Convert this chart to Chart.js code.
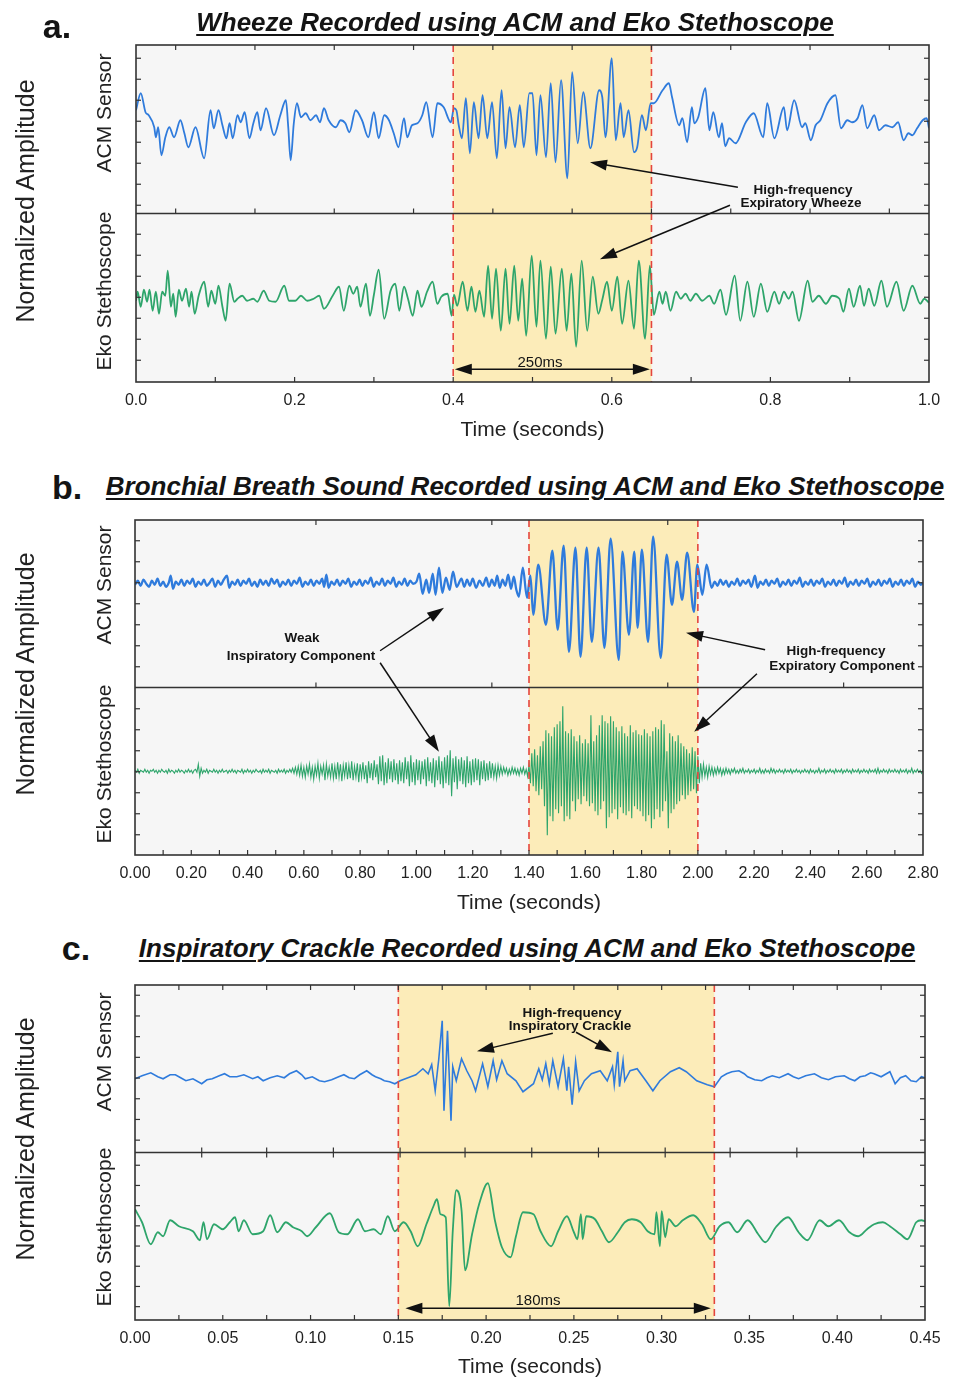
<!DOCTYPE html>
<html><head><meta charset="utf-8">
<script src="https://cdn.jsdelivr.net/npm/chart.js"></script>
<style>
html,body{margin:0;padding:0;background:#fff;}
body{width:953px;height:1380px;position:relative;overflow:hidden;font-family:'Liberation Sans',Arial,sans-serif;color:#141414;}
canvas{position:absolute;left:0;}
.c{position:absolute;transform:translate(-50%,-50%);white-space:nowrap;line-height:1;}
.r{position:absolute;transform:translate(-50%,-50%) rotate(-90deg);white-space:nowrap;line-height:1;}
.ttl{font-weight:bold;font-style:italic;font-size:26px;text-decoration:underline;text-decoration-thickness:2px;text-underline-offset:3px;}
.pl{font-weight:bold;font-size:34px;}
.an{font-weight:bold;font-size:13.5px;}
.ms{font-size:15px;}
.yl{font-size:21px;color:#222;}
.na{font-size:25px;color:#222;}
</style></head><body>
<canvas id="ca" width="953" height="410" style="top:40px"></canvas>
<canvas id="cb" width="953" height="410" style="top:515px"></canvas>
<canvas id="cc" width="953" height="400" style="top:980px"></canvas>

<div class="c pl" style="left:57px;top:26px">a.</div>
<div class="c ttl" style="left:515px;top:22px">Wheeze Recorded using ACM and Eko Stethoscope</div>
<div class="r na" style="left:25px;top:201px">Normalized Amplitude</div>
<div class="r yl" style="left:103px;top:113px">ACM Sensor</div>
<div class="r yl" style="left:103px;top:291px">Eko Stethoscope</div>
<div class="c an" style="left:803px;top:190px">High-frequency</div>
<div class="c an" style="left:801px;top:203px">Expiratory Wheeze</div>
<div class="c ms" style="left:540px;top:361px">250ms</div>

<div class="c pl" style="left:67px;top:487px">b.</div>
<div class="c ttl" style="left:525px;top:486px">Bronchial Breath Sound Recorded using ACM and Eko Stethoscope</div>
<div class="r na" style="left:25px;top:674px">Normalized Amplitude</div>
<div class="r yl" style="left:103px;top:585px">ACM Sensor</div>
<div class="r yl" style="left:103px;top:764px">Eko Stethoscope</div>
<div class="c an" style="left:302px;top:638px">Weak</div>
<div class="c an" style="left:301px;top:656px">Inspiratory Component</div>
<div class="c an" style="left:836px;top:651px">High-frequency</div>
<div class="c an" style="left:842px;top:666px">Expiratory Component</div>

<div class="c pl" style="left:76px;top:948px">c.</div>
<div class="c ttl" style="left:527px;top:948px">Inspiratory Crackle Recorded using ACM and Eko Stethoscope</div>
<div class="r na" style="left:25px;top:1139px">Normalized Amplitude</div>
<div class="r yl" style="left:103px;top:1052px">ACM Sensor</div>
<div class="r yl" style="left:103px;top:1227px">Eko Stethoscope</div>
<div class="c an" style="left:572px;top:1013px">High-frequency</div>
<div class="c an" style="left:570px;top:1026px">Inspiratory Crackle</div>
<div class="c ms" style="left:538px;top:1299px">180ms</div>

<script>
// ---------- DATA (time in ms, normalized amplitude) ----------
const acmA = [[0,19],[6,36],[12,17],[16,14],[23,2],[25,-8],[28,2],[32,-26],[37,-8],[42,2],[48,-8],[56,9],[61,-4],[66,-18],[75,2],[86,-29],[94,19],[98,1],[104,19],[109,4],[114,-9],[118,6],[122,-9],[128,14],[132,7],[137,17],[143,-9],[148,6],[153,17],[157,-1],[164,21],[174,-6],[182,14],[189,29],[192,2],[195,-31],[199,6],[203,26],[208,12],[214,16],[220,9],[227,14],[232,7],[237,21],[243,9],[252,2],[258,9],[264,6],[269,-3],[277,19],[285,9],[293,-8],[300,17],[306,-9],[313,14],[319,9],[325,-4],[331,-18],[338,11],[342,-8],[348,4],[355,6],[361,14],[366,27],[374,-8],[380,26],[388,22],[397,7],[401,21],[404,19],[407,4],[411,-9],[416,31],[421,-24],[426,27],[432,-9],[437,34],[443,-9],[449,27],[455,-29],[461,39],[466,-19],[471,22],[478,-18],[484,24],[489,-18],[496,36],[500,36],[505,-26],[510,34],[517,-28],[523,46],[529,-33],[536,49],[544,-49],[550,57],[557,-14],[564,37],[573,-19],[584,39],[588,32],[592,-8],[600,71],[605,-11],[611,26],[615,-8],[621,19],[628,-23],[632,-18],[638,14],[643,-1],[649,26],[653,26],[664,39],[672,46],[676,32],[685,4],[689,11],[695,-13],[701,22],[704,6],[709,12],[718,41],[723,-1],[728,17],[735,-8],[739,6],[743,-17],[748,-9],[756,-14],[769,7],[779,16],[791,-8],[796,26],[805,-9],[817,22],[821,-1],[830,29],[840,2],[844,6],[851,-11],[857,4],[863,9],[872,26],[882,34],[889,1],[897,9],[903,7],[910,11],[916,24],[922,1],[931,14],[937,-1],[945,4],[954,2],[961,7],[968,-11],[974,-4],[979,-6],[985,1],[992,9],[997,11],[1000,1]];

const ekoA = [[0,-3],[2,6],[6,-9],[10,8],[14,-4],[17,8],[21,-13],[25,6],[29,-16],[33,6],[37,2],[40,27],[44,-9],[47,4],[50,-19],[54,8],[58,-3],[63,9],[67,-9],[70,6],[74,-16],[79,2],[86,16],[91,-9],[95,7],[100,-6],[104,12],[109,-9],[113,-23],[118,14],[124,-4],[128,-1],[134,2],[140,-3],[148,-1],[153,-4],[161,7],[168,-3],[176,-4],[187,12],[193,-3],[201,-3],[208,2],[216,-3],[224,-1],[231,2],[237,-11],[248,2],[256,11],[262,-13],[269,12],[274,4],[279,11],[283,-9],[290,14],[295,-18],[300,3],[306,28],[313,-21],[321,7],[327,14],[332,-13],[338,11],[343,-1],[349,-18],[355,7],[360,-9],[367,6],[374,16],[380,-6],[385,1],[393,4],[398,-18],[401,3],[405,-8],[412,16],[418,-13],[423,11],[428,-14],[433,7],[439,-19],[444,32],[449,-21],[454,29],[460,-33],[466,29],[471,-26],[477,32],[482,-23],[487,19],[492,-38],[499,42],[505,-29],[510,37],[517,-41],[523,31],[529,-36],[537,29],[543,-33],[549,24],[555,-49],[562,37],[569,-33],[576,21],[583,-16],[588,-2],[594,16],[600,-13],[607,21],[613,-26],[621,17],[628,-31],[634,37],[642,-41],[648,32],[653,-17],[660,6],[664,-6],[668,6],[674,-13],[681,6],[687,-1],[693,4],[699,-3],[706,4],[714,-3],[723,2],[729,-6],[737,8],[744,-17],[755,22],[762,-23],[771,16],[779,-19],[788,14],[796,-14],[805,6],[811,-6],[817,6],[823,-1],[828,6],[836,-23],[847,17],[853,-4],[861,2],[870,-6],[878,2],[887,-1],[892,-14],[899,9],[905,-9],[913,12],[918,-8],[924,9],[931,-8],[940,17],[947,-9],[959,16],[968,-13],[979,12],[989,-6],[994,-1],[1000,-5]];

const acmB = [[0,19],[10,23],[20,18],[30,24],[40,20],[50,17],[60,23],[70,19],[80,25],[90,18],[100,22],[110,17],[120,21],[127,28],[135,15],[145,22],[155,19],[165,24],[175,18],[185,23],[195,20],[205,25],[215,17],[225,22],[235,19],[245,24],[255,18],[265,21],[275,25],[285,17],[295,23],[305,19],[315,24],[327,28],[335,16],[345,22],[355,19],[365,24],[375,18],[385,23],[395,20],[405,25],[415,18],[425,22],[435,17],[445,24],[455,19],[465,23],[475,18],[485,25],[495,20],[505,24],[515,17],[525,22],[535,19],[545,24],[555,18],[565,23],[575,20],[585,26],[595,17],[605,22],[615,19],[625,24],[635,18],[645,23],[655,20],[665,25],[672,17],[680,29],[688,16],[698,22],[708,19],[718,24],[728,18],[738,23],[748,20],[758,25],[768,17],[778,22],[788,19],[798,24],[808,18],[818,23],[828,20],[838,26],[848,17],[858,22],[868,19],[878,25],[888,18],[898,23],[908,20],[918,26],[928,17],[938,22],[948,19],[958,25],[968,18],[978,23],[988,20],[1000,22],[1010,30],[1022,10],[1035,24],[1045,11],[1058,30],[1068,9],[1080,36],[1092,11],[1105,26],[1118,14],[1130,32],[1143,17],[1160,25],[1170,17],[1180,24],[1190,18],[1200,25],[1212,16],[1224,23],[1236,18],[1248,26],[1258,17],[1268,24],[1278,18],[1287,28],[1296,16],[1306,24],[1316,18],[1326,29],[1336,15],[1346,27],[1355,14],[1364,7],[1378,36],[1393,6],[1400,20],[1405,28],[1415,-11],[1433,39],[1460,-21],[1483,53],[1502,-26],[1523,58],[1542,-48],[1565,56],[1583,-53],[1605,56],[1623,-38],[1647,56],[1668,-44],[1690,65],[1719,-56],[1732,52],[1755,-31],[1774,52],[1786,-24],[1801,54],[1823,-38],[1841,67],[1868,-54],[1889,49],[1908,-1],[1926,42],[1944,4],[1962,51],[1986,-8],[1998,39],[2016,9],[2031,39],[2049,16],[2060,22],[2070,18],[2080,24],[2090,19],[2100,23],[2110,17],[2120,22],[2130,19],[2140,25],[2150,18],[2160,23],[2170,20],[2180,24],[2190,17],[2203,28],[2212,16],[2222,22],[2232,19],[2242,24],[2252,18],[2262,23],[2272,20],[2282,25],[2292,17],[2302,22],[2312,19],[2322,24],[2332,18],[2342,23],[2352,20],[2362,26],[2372,17],[2382,22],[2392,19],[2402,24],[2412,18],[2422,23],[2432,20],[2442,25],[2452,17],[2462,22],[2472,19],[2482,24],[2492,18],[2502,23],[2512,20],[2522,26],[2532,17],[2542,22],[2552,19],[2562,24],[2572,18],[2582,23],[2592,20],[2602,25],[2612,17],[2622,22],[2632,19],[2642,24],[2652,18],[2662,23],[2672,20],[2682,25],[2692,17],[2702,22],[2712,19],[2722,24],[2732,18],[2742,23],[2752,20],[2762,25],[2772,17],[2782,22],[2792,19],[2800,21]];

// Eko (panel b) sampled every 5 ms, one row = 100 ms
const ekoB_stepMs = 5;
const ekoB = [
1,-1,2,-2,1,0,-1,2,-1,1,-2,1,0,2,-1,1,-2,1,-1,2,
0,-1,1,-2,2,-1,1,0,-2,1,-1,2,-1,1,0,-2,1,-1,2,-1,
1,-2,1,2,-1,7,-5,3,-2,1,-1,2,-2,1,0,-1,2,-1,1,-2,
1,-1,2,-1,0,1,-2,1,-1,2,-1,1,-2,1,0,-1,2,-2,1,-1,
2,-1,1,-2,1,-1,2,0,-1,1,-2,2,-1,1,-1,2,-2,1,0,-1,
1,-2,2,-1,1,-1,2,-2,1,-1,2,-1,3,-2,4,-3,5,-4,6,-5,
4,-6,5,-3,7,-6,4,-8,5,-4,8,-7,5,-3,6,-9,7,-5,4,-6,
8,-7,5,-8,9,-6,7,-10,6,-5,9,-8,6,-7,10,-9,5,-6,8,-11,
7,-6,9,-8,6,-12,10,-7,8,-9,11,-6,7,-13,15,-10,16,-14,9,-12,
13,-8,10,-11,12,-9,8,-13,11,-10,9,-12,14,-8,10,-15,16,-11,9,-14,
12,-9,11,-13,10,-8,12,-15,14,-10,9,-12,13,-16,11,-9,15,-13,10,-17,
14,-12,16,-14,21,-25,13,-11,15,-18,12,-10,14,-13,11,-16,15,-12,10,-14,
12,-11,13,-9,12,-14,10,-8,11,-10,8,-9,10,-7,8,-6,5,-7,6,-4,
5,-3,4,-2,3,-4,2,-3,4,-2,3,-3,2,-4,3,-2,4,-3,2,-5,
6,-12,18,-15,22,-20,16,-24,25,-18,30,-35,41,-64,38,-45,35,-50,44,-38,
47,-42,50,-35,65,-50,40,-45,38,-48,42,-30,35,-40,30,-28,36,-33,28,-25,
32,-30,28,-35,56,-32,30,-40,36,-44,46,-38,56,-30,50,-57,48,-46,55,-42,
50,-38,44,-48,40,-36,45,-42,38,-44,35,-40,46,-47,39,-35,41,-38,37,-40,
36,-45,42,-50,38,-44,35,-57,40,-48,44,-38,42,-46,51,-40,47,-30,20,-57,
38,-42,35,-38,30,-33,36,-30,28,-24,25,-28,22,-24,18,-20,24,-18,20,-22,
15,-12,8,-6,7,-5,4,-6,5,-3,4,-4,3,-3,4,-2,3,-4,2,-3,
3,-2,2,-3,2,-1,3,-2,1,-2,2,-1,3,-2,1,-1,2,-2,1,-1,
2,-2,1,-1,3,-2,1,-2,2,-1,1,-2,3,-1,2,-2,1,-1,2,-1,
1,-2,2,-1,1,-1,2,-2,1,-1,2,-1,1,-2,1,-1,2,-1,1,-2,
2,-1,1,-2,1,-1,3,-2,1,-1,2,-2,1,-1,2,-1,1,-2,2,-1,
1,-1,2,-2,1,-1,2,-1,1,-2,2,-1,1,-1,2,-2,1,-1,2,-1,
1,-2,2,-1,1,-1,2,-2,3,-2,1,-1,2,-1,1,-2,2,-1,1,-1,
2,-1,1,-2,2,-1,1,-1,2,-2,1,-1,3,-2,1,-1,2,-1,1,-2,
1];

const acmC = [[0,-10],[4,-7],[9,-4],[13,-8],[16,-10],[20,-6],[23,-6],[26,-9],[29,-12],[33,-10],[38,-15],[41,-11],[44,-10],[48,-7],[51,-5],[54,-8],[58,-8],[62,-6],[67,-10],[70,-8],[73,-12],[77,-9],[81,-7],[85,-9],[88,-5],[92,-2],[95,-6],[97,-10],[101,-8],[105,-12],[108,-13],[112,-11],[116,-8],[119,-6],[122,-9],[125,-10],[128,-6],[132,-2],[135,-6],[137,-8],[140,-10],[142,-12],[145,-13],[148,-15],[151,-12],[154,-10],[157,-8],[160,-6],[162,-3],[164,0],[167,-5],[169,4],[171,-22],[173,9],[175,48],[176,-42],[178,38],[180,-52],[181,2],[183,-12],[186,10],[189,-2],[192,-12],[194,-22],[198,5],[201,-18],[204,8],[206,-11],[209,8],[212,-5],[217,-12],[221,-23],[227,-15],[230,0],[232,-11],[234,5],[236,-15],[238,8],[241,-18],[244,10],[246,-22],[247,2],[249,-36],[251,7],[253,-22],[256,-12],[260,-5],[265,-2],[269,-12],[272,2],[273,-16],[275,17],[276,-18],[278,8],[279,-12],[282,-2],[286,0],[291,-12],[295,-22],[299,-12],[305,-3],[310,1],[314,-3],[320,-12],[326,-16],[330,-18],[334,-8],[337,-5],[340,-3],[344,-2],[347,-5],[349,-8],[353,-11],[357,-12],[360,-9],[363,-7],[367,-9],[372,-5],[375,-8],[378,-10],[382,-7],[387,-5],[391,-9],[395,-11],[399,-8],[404,-7],[407,-10],[410,-12],[413,-8],[416,-7],[419,-4],[421,-5],[425,-8],[430,-3],[433,-15],[436,-9],[439,-7],[442,-12],[445,-13],[448,-8],[450,-9]];

const ekoC = [[0,27],[4,14],[9,-8],[13,4],[16,0],[20,16],[25,10],[33,5],[37,-4],[39,14],[41,-3],[45,12],[50,7],[54,14],[57,19],[59,5],[62,16],[67,2],[73,5],[77,21],[81,4],[86,14],[90,9],[95,5],[98,0],[103,9],[111,23],[116,4],[121,2],[127,17],[131,5],[136,7],[140,2],[144,20],[148,5],[153,14],[157,5],[161,-10],[166,12],[170,30],[172,37],[174,22],[177,19],[179,-70],[181,5],[183,46],[186,26],[188,-34],[192,2],[196,32],[201,53],[205,16],[209,-11],[214,-21],[217,0],[221,24],[227,22],[231,5],[237,-10],[241,5],[246,20],[250,4],[252,-3],[254,22],[255,-3],[257,20],[262,17],[266,5],[270,-6],[275,4],[279,14],[283,17],[288,14],[292,5],[296,2],[297,24],[299,-10],[300,25],[302,-1],[304,17],[308,10],[312,16],[318,21],[323,12],[328,-3],[333,10],[338,14],[343,4],[349,16],[355,2],[359,-6],[365,9],[372,19],[378,4],[383,-4],[390,16],[395,10],[401,16],[407,4],[412,0],[417,7],[421,12],[426,14],[430,10],[436,2],[440,-3],[445,14],[448,16],[450,15]];

// tick labels (seconds)
const ticksA = [0, 0.2, 0.4, 0.6, 0.8, 1.0];
const ticksB = [0, 0.2, 0.4, 0.6, 0.8, 1.0, 1.2, 1.4, 1.6, 1.8, 2.0, 2.2, 2.4, 2.6, 2.8];
const ticksC = [0, 0.05, 0.1, 0.15, 0.2, 0.25, 0.3, 0.35, 0.4, 0.45];
// highlighted intervals (seconds)
const shadeA = [0.40, 0.65];
const shadeB = [1.40, 2.00];
const shadeC = [0.15, 0.33];
// minor tick marks (seconds)
const minorA_top = [0.05,0.15,0.25,0.35,0.45,0.55,0.65,0.75,0.85,0.95];
const minorA_bot = [0.1,0.2,0.3,0.4,0.5,0.6,0.7,0.8,0.9];
const minorB_top = [0.643,1.268,1.893,2.518];
const minorB_bot = [0.1,0.2,0.3,0.4,0.5,0.6,0.7,0.8,0.9,1.0,1.1,1.2,1.3,1.4,1.5,1.6,1.7,1.8,1.9,2.0,2.1,2.2,2.3,2.4,2.5,2.6,2.7];
const minorC_edge = [0.025,0.05,0.075,0.1,0.125,0.15,0.175,0.2,0.225,0.25,0.275,0.3,0.325,0.35,0.375,0.4,0.425];
const minorC_mid = [0.038,0.075,0.113,0.151,0.188,0.226,0.264,0.302,0.339,0.377,0.415];

// ---------- RENDER ----------
const BLUE = '#2f7bdc', GREEN = '#2ea56b', RED = '#e4453d', SHADE = '#fcecb9', BG = '#f6f6f6', FRAME = '#333';
const FONT = "'Liberation Sans', Arial, sans-serif";
Chart.defaults.font.family = FONT;

function arrow(ctx, x1, y1, x2, y2) {
  const ang = Math.atan2(y2 - y1, x2 - x1), hl = 17, hw = 5.5;
  const c = Math.cos(ang), s = Math.sin(ang);
  ctx.beginPath(); ctx.moveTo(x1, y1); ctx.lineTo(x2 - c * hl * 0.8, y2 - s * hl * 0.8); ctx.stroke();
  ctx.beginPath(); ctx.moveTo(x2, y2);
  ctx.lineTo(x2 - c * hl - s * hw, y2 - s * hl + c * hw);
  ctx.lineTo(x2 - c * hl + s * hw, y2 - s * hl - c * hw);
  ctx.closePath(); ctx.fill();
}

function makeDeco(cfg) {
  return {
    id: 'deco',
    beforeDatasetsDraw(chart) {
      const ctx = chart.ctx, a = chart.chartArea, x = chart.scales.x;
      ctx.save();
      ctx.fillStyle = BG; ctx.fillRect(a.left, a.top, a.right - a.left, a.bottom - a.top);
      const s0 = x.getPixelForValue(cfg.shade[0]), s1 = x.getPixelForValue(cfg.shade[1]);
      ctx.fillStyle = SHADE; ctx.fillRect(s0, a.top, s1 - s0, a.bottom - a.top);
      ctx.restore();
    },
    afterDatasetsDraw(chart) {
      const ctx = chart.ctx, a = chart.chartArea, x = chart.scales.x, y = chart.scales.yA;
      const mid = y.getPixelForValue(-cfg.plotH / 4);
      const ln = (x1, y1, x2, y2) => { ctx.beginPath(); ctx.moveTo(x1, y1); ctx.lineTo(x2, y2); ctx.stroke(); };
      ctx.save();
      ctx.strokeStyle = RED; ctx.lineWidth = 1.6; ctx.setLineDash([7, 5]);
      cfg.shade.forEach(v => { const p = x.getPixelForValue(v); ln(p, a.top, p, a.bottom); });
      ctx.setLineDash([]);
      ctx.strokeStyle = FRAME; ctx.lineWidth = 1.2;
      const L = 5;
      cfg.xTop.forEach(v => { const p = x.getPixelForValue(v); ln(p, a.top, p, a.top + L); });
      cfg.xDivUp.forEach(v => { const p = x.getPixelForValue(v); ln(p, mid, p, mid - L); });
      cfg.xDivDown.forEach(v => { const p = x.getPixelForValue(v); ln(p, mid, p, mid + L); });
      cfg.xBot.forEach(v => { const p = x.getPixelForValue(v); ln(p, a.bottom, p, a.bottom - L); });
      cfg.yTicks.forEach(v => { const p = y.getPixelForValue(v); ln(a.left, p, a.left + L, p); ln(a.right, p, a.right - L, p); });
      ctx.lineWidth = 1.6;
      ctx.strokeRect(a.left, a.top, a.right - a.left, a.bottom - a.top);
      ln(a.left, mid, a.right, mid);
      ctx.fillStyle = '#111'; ctx.strokeStyle = '#111'; ctx.lineWidth = 1.5;
      cfg.arrows.forEach(r => arrow(ctx, x.getPixelForValue(r[0]), y.getPixelForValue(r[1]), x.getPixelForValue(r[2]), y.getPixelForValue(r[3])));
      if (cfg.span) {
        const yy = y.getPixelForValue(cfg.span[2]);
        const p0 = x.getPixelForValue(cfg.span[0]), p1 = x.getPixelForValue(cfg.span[1]), m = (p0 + p1) / 2;
        arrow(ctx, m, yy, p0, yy); arrow(ctx, m, yy, p1, yy);
      }
      ctx.restore();
    }
  };
}

const toPts = arr => arr.map(p => ({ x: p[0] / 1000, y: p[1] }));

function build(id, cfg) {
  const q = cfg.plotH / 4;
  new Chart(document.getElementById(id), {
    type: 'line',
    data: { datasets: [
      { data: cfg.acm, yAxisID: 'yA', borderColor: BLUE, borderWidth: cfg.wA, pointRadius: 0, fill: false,
        tension: 0, cubicInterpolationMode: cfg.smoothA ? 'monotone' : 'default' },
      { data: cfg.eko, yAxisID: 'yE', borderColor: GREEN, borderWidth: cfg.wE, pointRadius: 0, fill: false,
        tension: 0, cubicInterpolationMode: cfg.smoothE ? 'monotone' : 'default' }
    ] },
    options: {
      responsive: false, animation: false, devicePixelRatio: 1, parsing: false, events: [],
      layout: { padding: { left: cfg.left, right: 953 - cfg.right, top: cfg.padTop, bottom: 0 } },
      plugins: { legend: { display: false }, tooltip: { enabled: false } },
      scales: {
        x: {
          type: 'linear', min: cfg.min, max: cfg.max,
          afterBuildTicks: s => { s.ticks = cfg.tickVals.map(v => ({ value: v })); },
          afterFit: s => { s.height = cfg.axisH; },
          grid: { display: false, drawTicks: false }, border: { display: false },
          ticks: { autoSkip: false, maxRotation: 0, padding: 9, color: '#222', font: { size: 16 },
                   callback: v => Number(v).toFixed(cfg.dec) },
          title: { display: true, text: 'Time (seconds)', color: '#222', font: { size: 21 },
                   padding: { top: 0, bottom: cfg.titlePad } }
        },
        yA: { type: 'linear', display: false, min: -3 * q, max: q },
        yE: { type: 'linear', display: false, min: -q, max: 3 * q }
      }
    },
    plugins: [makeDeco(cfg)]
  });
}

build('ca', {
  acm: toPts(acmA), eko: toPts(ekoA), smoothA: true, smoothE: true, wA: 1.8, wE: 1.8,
  plotH: 337, left: 136, right: 929, padTop: 5, axisH: 68, titlePad: 7,
  min: 0, max: 1, tickVals: ticksA, dec: 1, shade: shadeA,
  xTop: minorA_top, xDivUp: minorA_top, xDivDown: [], xBot: minorA_bot,
  yTicks: [71,50,29,8,-13,-34,-55,-76,-105,-126,-147,-168,-189,-210,-231],
  arrows: [[0.759,-58,0.5725,-33],[0.749,-76,0.585,-130]],
  span: [0.402, 0.648, -240]
});

build('cb', {
  acm: toPts(acmB), eko: ekoB.map((v, i) => ({ x: i * ekoB_stepMs / 1000, y: v })),
  smoothA: true, smoothE: false, wA: 2.3, wE: 1.1,
  plotH: 335, left: 135, right: 923, padTop: 5, axisH: 70, titlePad: 9,
  min: 0, max: 2.8, tickVals: ticksB, dec: 2, shade: shadeB,
  xTop: minorB_top, xDivUp: minorB_top, xDivDown: [], xBot: minorB_bot,
  yTicks: [63,42,21,0,-21,-42,-63,-105,-126,-147,-168,-189,-210,-231],
  arrows: [[0.871,-47,1.098,-4],[0.871,-59,1.080,-148],[2.239,-46,1.958,-29],[2.210,-70,1.987,-128]],
  span: null
});

build('cc', {
  acm: toPts(acmC), eko: toPts(ekoC), smoothA: false, smoothE: true, wA: 1.6, wE: 1.8,
  plotH: 335, left: 135, right: 925, padTop: 5, axisH: 60, titlePad: 0,
  min: 0, max: 0.45, tickVals: ticksC, dec: 2, shade: shadeC,
  xTop: minorC_edge, xDivUp: minorC_mid, xDivDown: minorC_mid, xBot: minorC_edge,
  yTicks: [73.5,52.8,32.1,11.4,-9.3,-30,-50.7,-71.4,-96.5,-116.7,-136.9,-157.1,-177.3,-197.5,-217.7,-237.9],
  arrows: [[0.238,35.5,0.1948,17.5],[0.2512,36.5,0.2717,16.5]],
  span: [0.154, 0.328, -239.5]
});
</script>
</body></html>
